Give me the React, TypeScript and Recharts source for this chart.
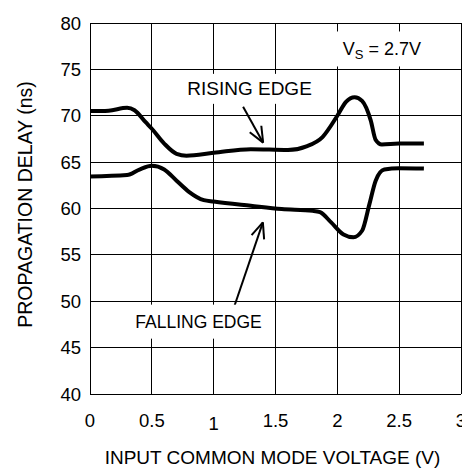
import React from "react";
import {
  LineChart,
  Line,
  XAxis,
  YAxis,
  CartesianGrid,
  ReferenceLine,
  ReferenceDot,
} from "recharts";

// values (Vs = 2.7V)
const xTicks = [0, 0.5, 1, 1.5, 2, 2.5, 3];
const yTicks = [40, 45, 50, 55, 60, 65, 70, 75, 80];

const risingX = [0, 0.15, 0.3, 0.36, 0.45, 0.5, 0.6, 0.7, 0.78, 1.0, 1.3, 1.6, 1.75, 1.88, 2.0, 2.07, 2.14, 2.2, 2.27, 2.31, 2.36, 2.5, 2.7];
const risingY = [70.5, 70.55, 70.85, 70.6, 69.3, 68.6, 67.0, 65.9, 65.7, 66.0, 66.4, 66.3, 66.7, 67.7, 70.0, 71.5, 72.0, 71.6, 69.5, 67.4, 66.9, 67.0, 67.0];

const fallingX = [0, 0.3, 0.4, 0.5, 0.6, 0.7, 0.8, 0.92, 1.0, 1.3, 1.55, 1.8, 1.86, 1.95, 2.05, 2.13, 2.2, 2.26, 2.31, 2.38, 2.5, 2.7];
const fallingY = [63.45, 63.6, 64.2, 64.6, 64.2, 63.0, 61.8, 60.9, 60.75, 60.3, 59.95, 59.75, 59.6, 58.5, 57.2, 56.9, 57.6, 60.5, 63.0, 64.2, 64.35, 64.3];

const rising = risingX.map((x, i) => ({ x, y: risingY[i] }));
const falling = fallingX.map((x, i) => ({ x, y: fallingY[i] }));

const FONT = "'Liberation Sans', Arial, sans-serif";

function Arrow(props: any) {
  const { x1, y1, x2, y2 } = props;
  const a = Math.atan2(y2 - y1, x2 - x1);
  const len = 17;
  const spread = 0.4;
  const b1x = x2 - len * Math.cos(a - spread);
  const b1y = y2 - len * Math.sin(a - spread);
  const b2x = x2 - len * Math.cos(a + spread);
  const b2y = y2 - len * Math.sin(a + spread);
  return (
    <g stroke="#000" strokeWidth={2} fill="none">
      <line x1={x1} y1={y1} x2={x2} y2={y2} />
      <line x1={x2} y1={y2} x2={b1x} y2={b1y} />
      <line x1={x2} y1={y2} x2={b2x} y2={b2y} />
    </g>
  );
}

function boxLabel(text: any, w: number, h: number, fontSize: number) {
  return (p: any) => (
    <g>
      <rect x={p.cx - w / 2} y={p.cy - h / 2} width={w} height={h} fill="#fff" />
      <text
        x={p.cx}
        y={p.cy}
        textAnchor="middle"
        dominantBaseline="central"
        fontSize={fontSize}
        fill="#000"
      >
        {text}
      </text>
    </g>
  );
}

function XTick(p: any) {
  const v = p.payload.value;
  return (
    <text x={p.x} y={p.y + (v === 1 ? 2.5 : 0)} dy="0.71em" textAnchor="middle" fontSize={18.5} fill="#000">
      {v}
    </text>
  );
}

function XTitle(p: any) {
  const vb = p.viewBox;
  return (
    <text x={vb.x + vb.width / 2 - 3} y={vb.y + 63} textAnchor="middle" dominantBaseline="central" fontSize={19} fill="#000">
      INPUT COMMON MODE VOLTAGE (V)
    </text>
  );
}

function YTitle(p: any) {
  const vb = p.viewBox;
  const cx = vb.x + 25;
  const cy = vb.y + vb.height / 2 - 4;
  return (
    <text x={cx} y={cy} transform={`rotate(-90 ${cx} ${cy})`} textAnchor="middle" dominantBaseline="central" fontSize={19.5} fill="#000">
      PROPAGATION DELAY (ns)
    </text>
  );
}

const vsText = (
  <>
    <tspan>V</tspan>
    <tspan dy={5} fontSize={13}>S</tspan>
    <tspan dy={-5}> = 2.7V</tspan>
  </>
);

export default function App() {
  return (
    <div
      style={{
        position: "absolute",
        left: 0,
        top: 0,
        width: 462,
        height: 468,
        overflow: "hidden",
        background: "#fff",
        fontFamily: FONT,
      }}
    >
      <LineChart width={462} height={468} margin={{ top: 23, right: 1, left: 0, bottom: 0 }}>
        <CartesianGrid stroke="#000" strokeWidth={1} shapeRendering="crispEdges" />
        <XAxis
          type="number"
          dataKey="x"
          domain={[0, 3]}
          ticks={xTicks}
          interval={0}
          height={74}
          tickSize={0}
          tickMargin={20}
          tick={<XTick />}
          axisLine={{ stroke: "#000", shapeRendering: "crispEdges" }}
          label={{ content: <XTitle /> }}
        />
        <YAxis
          type="number"
          domain={[40, 80]}
          ticks={yTicks}
          interval={0}
          width={90}
          tickSize={0}
          tickMargin={9}
          tick={{ fontSize: 18.5, fill: "#000" }}
          axisLine={{ stroke: "#000", shapeRendering: "crispEdges" }}
          label={{ content: <YTitle /> }}
        />
        <ReferenceDot x={1.29} y={72.9} r={0} shape={boxLabel("RISING EDGE", 130, 30, 19)} />
        <ReferenceDot x={0.878} y={47.8} r={0} shape={boxLabel("FALLING EDGE", 146, 34, 17.5)} />
        <ReferenceDot x={2.36} y={77.2} r={0} shape={boxLabel(vsText, 106, 35, 18)} />
        <ReferenceLine segment={[{ x: 1.238, y: 70.98 }, { x: 1.4, y: 67.1 }]} shape={<Arrow />} />
        <ReferenceLine segment={[{ x: 1.163, y: 49.3 }, { x: 1.398, y: 58.5 }]} shape={<Arrow />} />
        <Line
          data={rising}
          dataKey="y"
          type="monotone"
          stroke="#000"
          strokeWidth={4}
          dot={false}
          isAnimationActive={false}
        />
        <Line
          data={falling}
          dataKey="y"
          type="monotone"
          stroke="#000"
          strokeWidth={4}
          dot={false}
          isAnimationActive={false}
        />
      </LineChart>
    </div>
  );
}
